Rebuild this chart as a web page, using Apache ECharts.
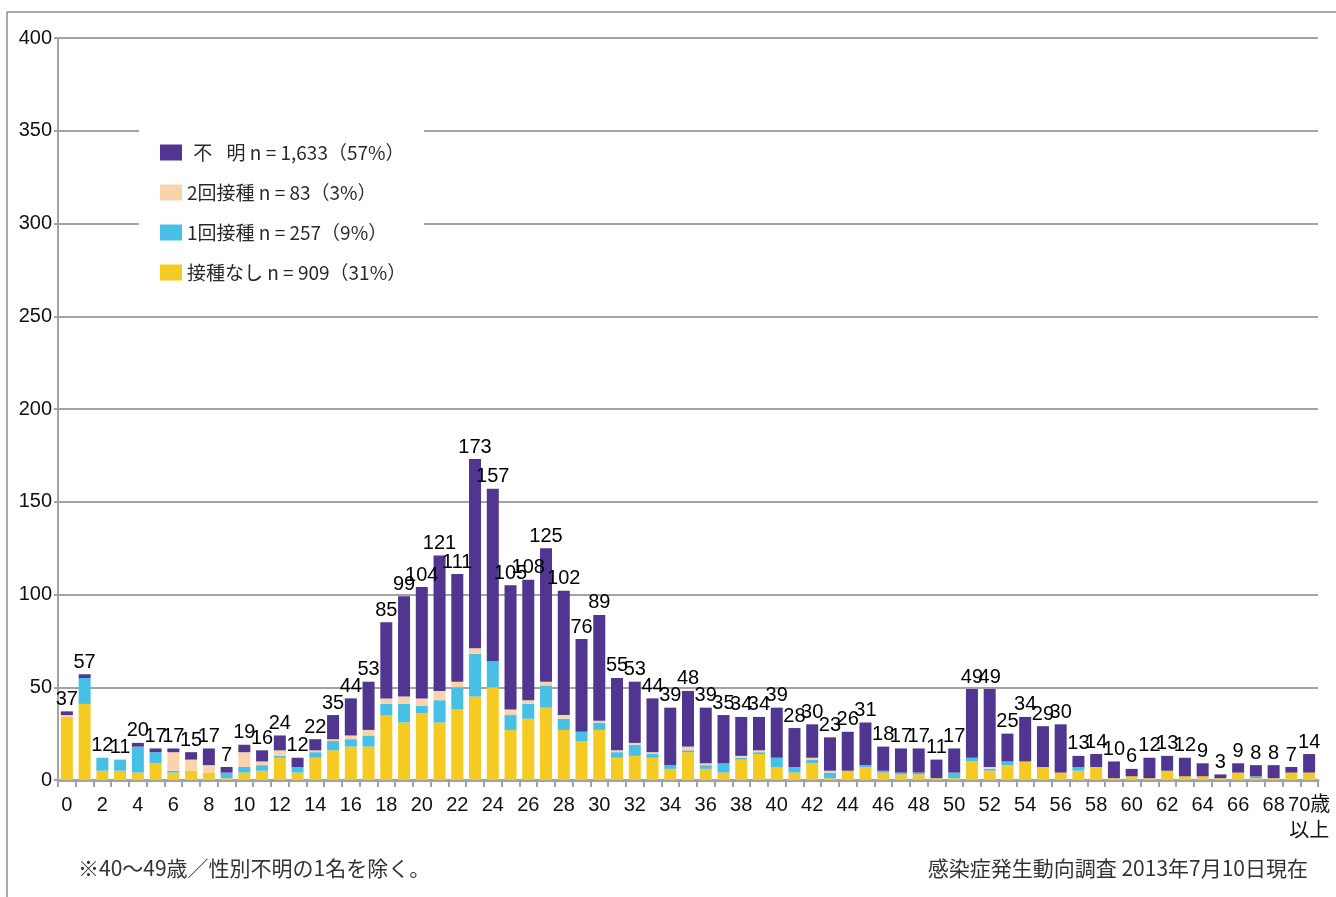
<!DOCTYPE html>
<html>
<head>
<meta charset="utf-8">
<script src="https://cdn.jsdelivr.net/npm/echarts@6/dist/echarts.min.js"></script>
<style>
  html, body { margin: 0; padding: 0; background: #fff; }
  #chart { width: 1336px; height: 897px; }
</style>
</head>
<body>
<div id="chart"></div>
<script>
// 年齢（0〜70歳以上）
const ages = ['0','1','2','3','4','5','6','7','8','9',
  '10','11','12','13','14','15','16','17','18','19',
  '20','21','22','23','24','25','26','27','28','29',
  '30','31','32','33','34','35','36','37','38','39',
  '40','41','42','43','44','45','46','47','48','49',
  '50','51','52','53','54','55','56','57','58','59',
  '60','61','62','63','64','65','66','67','68','69',
  '70歳\n以上']

// 接種なし
const noVax = [34,41,5,5,4,9,4,5,4,1,
  4,5,12,4,12,16,18,18,35,31,
  36,31,38,45,50,27,33,39,27,21,
  27,12,13,12,6,15,6,4,11,14,
  7,4,9,1,5,7,4,3,3,1,
  1,10,5,8,10,7,4,5,7,1,
  2,1,5,2,2,1,4,1,1,4,
  4]
// 1回接種
const oneDose = [0,14,7,6,14,6,1,0,0,3,
  3,3,1,3,3,5,4,6,6,10,
  4,12,12,23,14,8,8,12,6,5,
  4,3,6,2,2,1,2,5,1,1,
  5,3,2,3,0,1,1,1,1,0,
  3,2,1,2,0,0,0,2,0,0,
  0,0,0,0,0,0,0,1,0,0,
  0]
// 2回接種
const twoDose = [1,0,0,0,0,0,10,6,4,0,
  8,2,3,0,1,1,2,3,3,4,
  4,5,3,3,0,3,2,2,2,0,
  1,1,1,1,0,2,1,0,1,1,
  0,0,1,1,0,0,0,0,0,0,
  0,0,1,0,0,0,0,0,0,0,
  0,0,0,0,0,0,0,0,0,0,
  0]
// 不明
const unknown = [2,2,0,0,2,2,2,4,9,3,
  4,6,8,5,6,13,20,26,41,54,
  60,73,58,102,93,67,65,72,67,50,
  57,39,33,29,31,30,30,26,21,18,
  27,21,18,18,21,23,13,13,13,10,
  13,37,42,15,24,22,26,6,7,9,
  4,11,8,10,7,2,5,6,7,3,
  10]

const legendNames = ['\u2004不\u2002\u2005明 n = 1,633（57%）', '2回接種 n = 83（3%）', '1回接種 n = 257（9%）', '接種なし n = 909（31%）']

const totals = ages.map((a, i) => noVax[i] + oneDose[i] + twoDose[i] + unknown[i])

const numFont = "'Liberation Sans', Arial, 'Noto Sans CJK JP', sans-serif"
const jpFont = "'Noto Sans CJK JP', sans-serif"
const gray = '#a3a3a3'

const chart = echarts.init(document.getElementById('chart'))

function barSeries(name, data, color) {
  return {
    name: name,
    type: 'bar',
    stack: 'age',
    data: data,
    barWidth: 12,
    itemStyle: { color: color },
    emphasis: { disabled: true }
  }
}

chart.setOption({
  animation: false,
  backgroundColor: '#fff',
  grid: { left: 58, right: 18, top: 38, bottom: 117 },
  legend: {
    orient: 'vertical',
    left: 139,
    top: 129,
    align: 'left',
    data: legendNames,
    itemWidth: 22,
    itemHeight: 16,
    itemGap: 21,
    padding: [14, 18, 18, 21],
    backgroundColor: '#fff',
    icon: 'rect',
    textStyle: { fontFamily: jpFont, fontSize: 19, color: '#2a2a2a' },
    selectedMode: false
  },
  xAxis: {
    type: 'category',
    data: ages,
    axisLine: { lineStyle: { color: gray, width: 3 } },
    axisTick: { show: true, length: 7, lineStyle: { color: gray, width: 2 }, interval: 0 },
    axisLabel: {
      interval: 1,
      margin: 12,
      fontFamily: numFont,
      fontSize: 20,
      color: '#111',
      lineHeight: 26
    }
  },
  yAxis: {
    type: 'value',
    min: 0,
    max: 400,
    interval: 50,
    axisLine: { show: true, lineStyle: { color: gray, width: 2 } },
    axisTick: { show: true, length: 4, lineStyle: { color: gray, width: 2 } },
    axisLabel: { fontFamily: numFont, fontSize: 20, color: '#111', margin: 6 },
    splitLine: { lineStyle: { color: gray, width: 2 } }
  },
  series: [
    barSeries(legendNames[3], noVax, '#f5ca22'),
    barSeries(legendNames[2], oneDose, '#48bfe5'),
    barSeries(legendNames[1], twoDose, '#fad3ac'),
    barSeries(legendNames[0], unknown, '#503591'),
    {
      // 合計ラベル用（高さ0）
      name: 'total',
      type: 'bar',
      stack: 'age',
      barWidth: 12,
      data: ages.map(() => 0),
      itemStyle: { color: 'transparent' },
      label: {
        show: true,
        position: 'top',
        distance: 2,
        fontFamily: numFont,
        fontSize: 20,
        color: '#000',
        formatter: p => totals[p.dataIndex]
      },
      emphasis: { disabled: true }
    }
  ],
  graphic: [
    {
      type: 'rect',
      z: -10,
      shape: { x: 7, y: 12, width: 1400, height: 1000 },
      style: { fill: 'none', stroke: '#555', lineWidth: 1 }
    },
    {
      type: 'text',
      left: 78,
      top: 858,
      style: { text: '※40～49歳／性別不明の1名を除く。', font: '21px ' + jpFont, fill: '#333' }
    },
    {
      type: 'text',
      right: 28,
      top: 858,
      style: { text: '感染症発生動向調査 2013年7月10日現在', font: '21px ' + jpFont, fill: '#333' }
    }
  ]
})
</script>
</body>
</html>
